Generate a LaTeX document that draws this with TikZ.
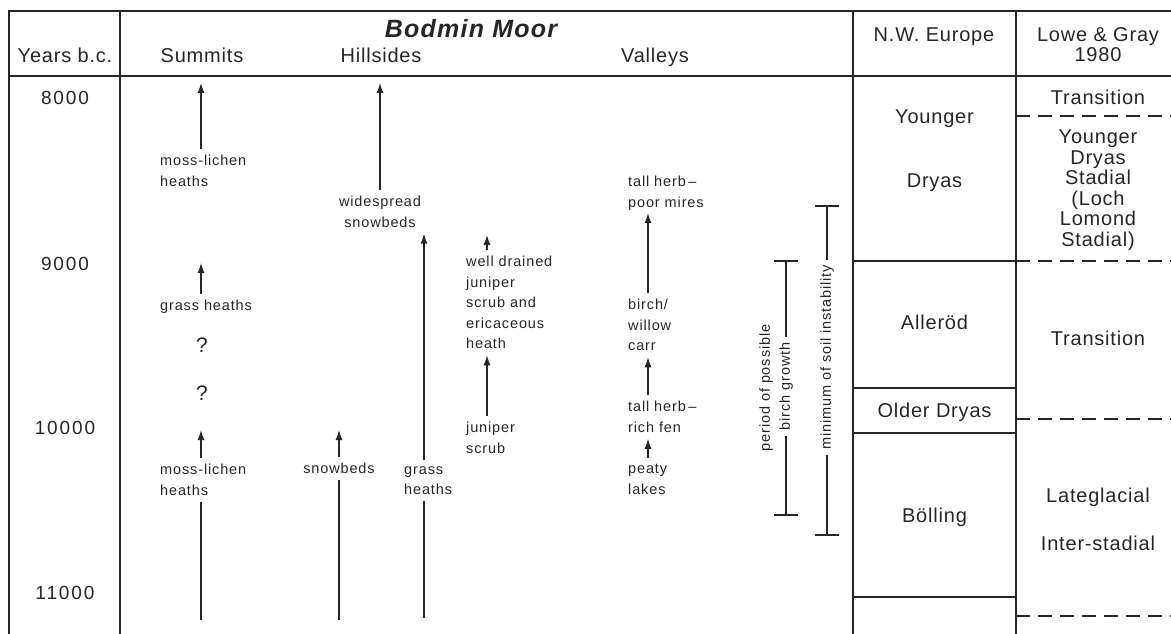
\documentclass[tikz,border=0pt]{standalone}
\usepackage{fontspec}
\setmainfont{Liberation Sans}
\newfontfamily\hfont[LetterSpace=4]{Liberation Sans}
\newfontfamily\yfont[LetterSpace=10]{Liberation Sans}
\newfontfamily\lfont[LetterSpace=6]{Liberation Sans}
\newfontfamily\tfont[LetterSpace=5]{Liberation Sans}
\usetikzlibrary{arrows.meta}
\definecolor{ink}{HTML}{262626}
\begin{document}
\begin{tikzpicture}[x=1pt,y=-1pt,
  frameline/.style={draw=ink,line width=1.6pt},
  rowline/.style={draw=ink,line width=1.3pt},
  dashrow/.style={draw=ink,line width=1.3pt,dash pattern=on 14pt off 8pt},
  arr/.style={draw=ink,line width=1.3pt,-{Latex[length=10pt,width=7pt]}},
  stem/.style={draw=ink,line width=1.3pt},
  hdr/.style={text=ink,inner sep=0pt,anchor=base,font=\hfont\fontsize{20}{21}\selectfont},
  yr/.style={text=ink,inner sep=0pt,anchor=base,font=\yfont\fontsize{19}{21}\selectfont},
  lbl/.style={text=ink,inner xsep=0pt,inner ysep=6pt,anchor=north west,align=left,font=\lfont\fontsize{14.5}{20.5}\selectfont},
  clbl/.style={lbl,anchor=north,align=center},
  rot/.style={text=ink,inner xsep=5pt,inner ysep=0pt,rotate=90,font=\lfont\fontsize{14.5}{17}\selectfont},
  qm/.style={text=ink,inner sep=0pt,font=\fontsize{21}{22}\selectfont},
  stack/.style={text=ink,inner sep=0pt,anchor=north,align=center,font=\hfont\fontsize{20}{20.6}\selectfont}
]
\useasboundingbox (0,0) rectangle (1171,634);
% ---------- frame ----------
\draw[frameline] (9,634) -- (9,11) -- (1171,11);
\draw[frameline] (9,76) -- (1171,76);
\draw[frameline] (120,11) -- (120,634);
\draw[frameline] (853,11) -- (853,634);
\draw[frameline] (1016,11) -- (1016,634);
\foreach \yy in {261,388,433,597} \draw[rowline] (853,\yy) -- (1016,\yy);
\foreach \yy in {116,261,419,616} \draw[dashrow] (1016,\yy) -- (1171,\yy);
% ---------- headers ----------
\node[hdr] (hyears) at (65,63) {Years b.c.};
\node[hdr] (hsum) at (202,63) {Summits};
\node[hdr] (hhill) at (381,63) {Hillsides};
\node[hdr] (hval) at (655,63) {Valleys};
\node[text=ink,inner sep=0pt,anchor=base,font=\tfont\bfseries\itshape\fontsize{25}{26}\selectfont] (hbod) at (471,38) {Bodmin Moor};
\node[hdr] (hnw) at (934,42) {N.W. Europe};
\node[stack,font=\hfont\fontsize{20}{20}\selectfont] (hlg) at (1098,27.5) {Lowe \& Gray\\1980};
% ---------- years ----------
\node[yr] (y8) at (65,105) {8000};
\node[yr] (y9) at (65,270) {9000};
\node[yr] (y10) at (65,434) {10000};
\node[yr] (y11) at (65,599) {11000};
% ---------- N.W. Europe ----------
\node[hdr] (nyd1) at (934.5,124) {Younger};
\node[hdr] (nyd2) at (934.5,187) {Dryas};
\node[hdr] (nall) at (934.5,329) {Alleröd};
\node[hdr] (nod) at (934.5,417) {Older Dryas};
\node[hdr] (nbol) at (934.5,522) {Bölling};
% ---------- Lowe & Gray ----------
\node[hdr] (ltr1) at (1098,104) {Transition};
\node[stack] (lyds) at (1098,129.5) {Younger\\Dryas\\Stadial\\(Loch\\Lomond\\Stadial)};
\node[hdr] (ltr2) at (1098,345) {Transition};
\node[hdr] (llg1) at (1098,502) {Lateglacial};
\node[hdr] (llg2) at (1098,550) {Inter-stadial};
% ---------- Summits ----------
\coordinate (cS) at (201,0);
\node[lbl] (smlA) at (160,149.2) {moss-lichen\\heaths};
\node[lbl] (sgh) at (160,294.2) {grass heaths};
\node[qm] (sq1) at (202,345) {?};
\node[qm] (sq2) at (202,393) {?};
\node[lbl] (smlB) at (160,458.2) {moss-lichen\\heaths};
\coordinate (sT1) at (201,83);
\coordinate (sT2) at (201,263);
\coordinate (sT3) at (201,430);
\coordinate (sB) at (201,620);
\draw[arr] (smlA.north -| cS) -- (sT1);
\draw[arr] (sgh.north -| cS) -- (sT2);
\draw[arr] (smlB.north -| cS) -- (sT3);
\draw[stem] (sB) -- (smlB.south -| cS);
% ---------- Hillsides ----------
\node[clbl] (hwide) at (380,190.2) {widespread\\snowbeds};
\node[clbl] (hsnow) at (339,457.2) {snowbeds};
\node[lbl] (hgh) at (404,460.3) {grass\\heaths};
\coordinate (cH2) at (424,0);
\coordinate (hT1) at (380,83);
\coordinate (hT2) at (339,430);
\coordinate (hB1) at (339,620);
\coordinate (hB2) at (424,618);
\draw[arr] (hwide.north) -- (hT1);
\draw[arr] (hsnow.north) -- (hT2);
\draw[stem] (hB1) -- (hsnow.south);
\draw[arr] (hgh.north -| cH2) -- (hwide.south -| cH2);
\draw[stem] (hB2) -- (hgh.south -| cH2);
% ---------- middle (well drained) ----------
\coordinate (cM) at (487,0);
\coordinate (mT2) at (487,235);
\node[lbl] (mjun) at (466,416.2) {juniper\\scrub};
\node[lbl] (mwell) at (466,250.2) {well drained\\juniper\\scrub and\\ericaceous\\heath};
\draw[arr] (mjun.north -| cM) -- (mwell.south -| cM);
\draw[arr] (mwell.north -| cM) -- (mT2);
% ---------- Valleys ----------
\coordinate (cV) at (648,0);
\node[lbl] (vtall1) at (628,170.2) {tall herb\,–\\poor mires};
\node[lbl] (vbirch) at (628,293.2) {birch/\\willow\\carr};
\node[lbl] (vtall2) at (628,395.2) {tall herb\,–\\rich fen};
\node[lbl] (vpeat) at (628,458.1) {peaty\\lakes};
\draw[arr,shorten >=-3.5pt] (vbirch.north -| cV) -- (vtall1.south -| cV);
\draw[arr] (vtall2.north -| cV) -- (vbirch.south -| cV);
\draw[arr] (vpeat.north -| cV) -- (vtall2.south -| cV);
% ---------- range bars ----------
\coordinate (bT) at (786,261);
\coordinate (bB) at (786,515);
\node[rot] (pbtxt) at (766,388) {period of possible};
\node[rot] (bgtxt) at (786,386.5) {birch growth};
\draw[stem] (bT) -- (bgtxt.east);
\draw[stem] (bgtxt.west) -- (bB);
\draw[stem] ([xshift=-12pt]bT) -- ([xshift=12pt]bT);
\draw[stem] ([xshift=-12pt]bB) -- ([xshift=12pt]bB);
\coordinate (nT) at (827,206);
\coordinate (nB) at (827,535);
\node[rot] (mintxt) at (827,357.5) {minimum of soil instability};
\draw[stem] (nT) -- (mintxt.east);
\draw[stem] (mintxt.west) -- (nB);
\draw[stem] ([xshift=-12pt]nT) -- ([xshift=12pt]nT);
\draw[stem] ([xshift=-12pt]nB) -- ([xshift=12pt]nB);
\end{tikzpicture}
\end{document}
